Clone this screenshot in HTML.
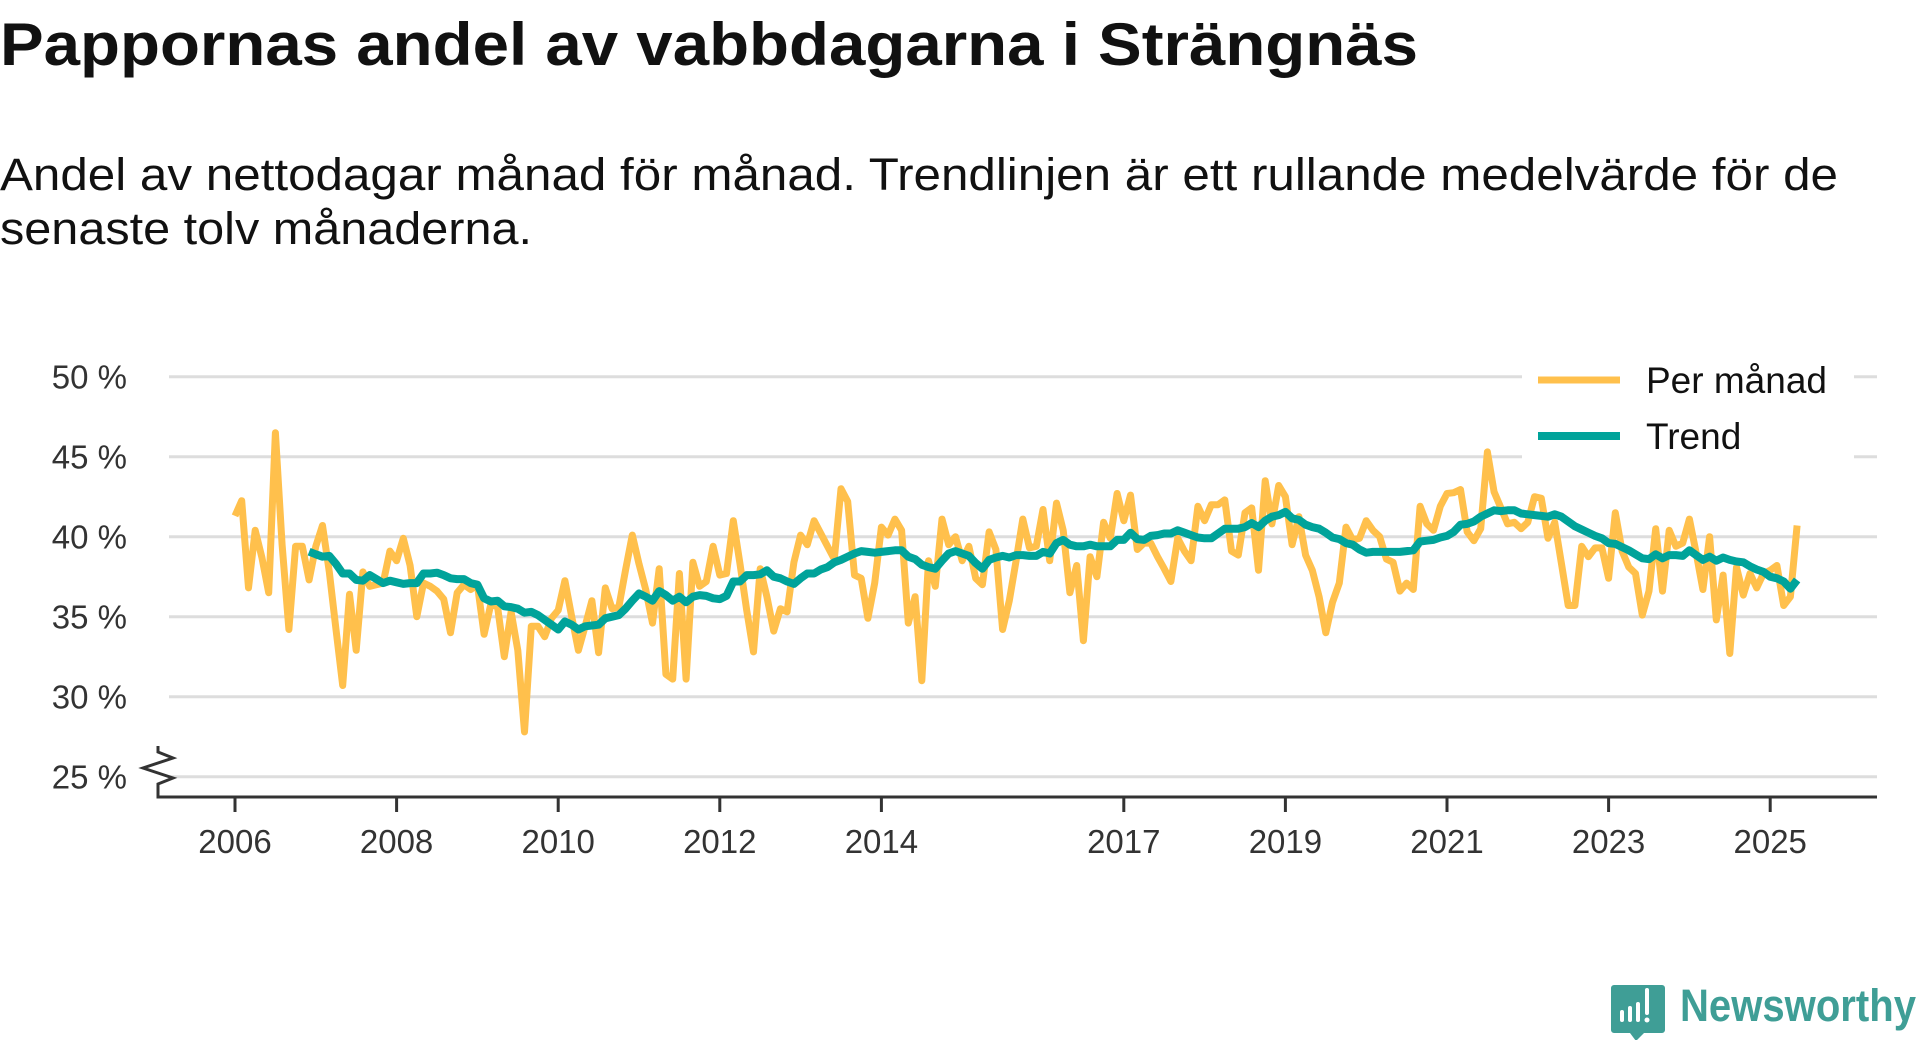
<!DOCTYPE html>
<html><head><meta charset="utf-8"><style>
html,body{margin:0;padding:0;background:#fff;}
svg{display:block;font-family:"Liberation Sans","DejaVu Sans",sans-serif;}
</style></head><body>
<svg id="chart" width="1920" height="1040" viewBox="0 0 1920 1040" xmlns="http://www.w3.org/2000/svg">
<defs><clipPath id="subclip"><rect x="0" y="120" width="1920" height="133"/></clipPath></defs>
<text x="0" y="65" font-size="60" font-weight="bold" fill="#111" textLength="1418" lengthAdjust="spacingAndGlyphs">Pappornas andel av vabbdagarna i Strängnäs</text>
<g clip-path="url(#subclip)">
<text x="0" y="190" font-size="45" fill="#111" textLength="1838" lengthAdjust="spacingAndGlyphs">Andel av nettodagar månad för månad. Trendlinjen är ett rullande medelvärde för de</text>
<text x="0" y="244" font-size="45" fill="#111" textLength="532" lengthAdjust="spacingAndGlyphs">senaste tolv månaderna.</text>
</g>
<g id="grid"></g>
<g id="yaxis"></g>
<g id="xaxis"></g>
<g id="series"></g>
<g>
<rect x="1522" y="356" width="332" height="104" fill="#fff"/>
<line x1="1538" y1="380" x2="1620" y2="380" stroke="#FFC04C" stroke-width="7"/>
<text x="1646" y="393" font-size="37" fill="#111">Per månad</text>
<line x1="1538" y1="436" x2="1620" y2="436" stroke="#00A39A" stroke-width="8"/>
<text x="1646" y="449" font-size="37" fill="#111">Trend</text>
</g>
<g>
<path d="M1614 985 h48 a3 3 0 0 1 3 3 v42 a3 3 0 0 1 -3 3 h-18 l-8 8 l-6 -8 h-16 a3 3 0 0 1 -3 -3 v-42 a3 3 0 0 1 3 -3z" fill="#3F9E96"/>
<rect x="1620" y="1010" width="4" height="12" fill="#fff" rx="2"/>
<rect x="1628" y="1006" width="4" height="16" fill="#fff" rx="2"/>
<rect x="1636" y="1002" width="4" height="20" fill="#fff" rx="2"/>
<rect x="1645" y="988" width="4" height="27" fill="#fff" rx="2"/>
<circle cx="1647" cy="1020" r="2.5" fill="#fff"/>
<text x="1680" y="1021" font-size="45" font-weight="bold" fill="#3F9E96" textLength="236" lengthAdjust="spacingAndGlyphs">Newsworthy</text>
</g>
</svg>
<script>
const yTicks = [25, 30, 35, 40, 45, 50];
const yTickLabels = ["25 %", "30 %", "35 %", "40 %", "45 %", "50 %"];
const xTickYears = [2006, 2008, 2010, 2012, 2014, 2017, 2019, 2021, 2023, 2025];
const monthly = [41.3,42.25,36.8,40.4,38.7,36.5,46.5,39.5,34.2,39.4,39.4,37.3,39.4,40.7,37.8,34.2,30.7,36.4,32.9,37.8,36.9,37.0,37.1,39.1,38.5,39.9,38.2,35.0,37.1,36.9,36.6,36.1,34.0,36.5,37.0,36.7,37.0,33.9,35.8,35.6,32.5,35.3,32.9,27.8,34.4,34.4,33.75,34.9,35.4,37.25,35.0,32.9,34.4,36.0,32.75,36.8,35.5,35.6,37.9,40.1,38.3,36.7,34.6,38.0,31.4,31.1,37.7,31.1,38.4,36.9,37.2,39.4,37.6,37.7,41.0,38.3,35.4,32.8,38.0,36.25,34.1,35.5,35.3,38.4,40.1,39.5,41.0,40.2,39.4,38.6,43.0,42.2,37.6,37.4,34.9,37.1,40.6,40.1,41.1,40.4,34.6,36.25,31.0,38.5,36.9,41.1,39.5,40.0,38.5,39.4,37.4,37.0,40.3,39.2,34.2,36.0,38.5,41.1,39.3,39.4,41.7,38.5,42.1,40.4,36.5,38.2,33.5,38.75,37.5,40.9,39.9,42.7,41.0,42.6,39.2,39.6,39.6,38.75,38.0,37.2,39.9,39.1,38.5,41.9,41.0,42.0,42.0,42.3,39.1,38.85,41.5,41.8,37.9,43.5,40.8,43.2,42.5,39.5,41.25,38.85,37.9,36.25,34.0,35.9,37.1,40.6,39.8,39.9,41.0,40.4,40.0,38.6,38.4,36.6,37.1,36.7,41.9,40.8,40.4,41.9,42.7,42.75,42.95,40.3,39.75,40.5,45.3,42.8,41.8,40.8,40.9,40.5,40.9,42.5,42.4,39.9,40.9,38.3,35.7,35.7,39.4,38.75,39.3,39.3,37.4,41.5,39.1,38.1,37.7,35.1,36.6,40.5,36.6,40.4,39.4,39.6,41.1,39.0,36.7,40.0,34.8,37.6,32.7,38.1,36.35,37.7,36.8,37.7,37.9,38.2,35.7,36.25,40.7];
const trendStart = 11;
const trend = [39.06,38.9,38.75,38.8,38.3,37.7,37.7,37.3,37.25,37.6,37.35,37.1,37.25,37.15,37.05,37.1,37.1,37.7,37.7,37.75,37.6,37.4,37.35,37.35,37.1,37.0,36.15,35.95,36.0,35.65,35.6,35.5,35.25,35.3,35.1,34.8,34.5,34.2,34.7,34.5,34.2,34.4,34.45,34.5,34.9,35.0,35.1,35.5,36.0,36.45,36.25,36.0,36.6,36.35,36.0,36.25,35.9,36.25,36.35,36.3,36.15,36.1,36.3,37.2,37.2,37.6,37.6,37.65,37.9,37.5,37.4,37.2,37.05,37.4,37.7,37.7,37.95,38.1,38.4,38.55,38.75,38.95,39.1,39.05,39.0,39.05,39.1,39.15,39.15,38.75,38.6,38.25,38.1,38.0,38.5,38.95,39.1,38.95,38.8,38.35,38.0,38.55,38.7,38.8,38.7,38.85,38.85,38.8,38.8,39.05,38.95,39.6,39.8,39.5,39.4,39.4,39.5,39.4,39.4,39.4,39.8,39.8,40.25,39.85,39.8,40.05,40.1,40.2,40.2,40.4,40.25,40.1,39.95,39.9,39.9,40.2,40.5,40.5,40.5,40.6,40.85,40.6,41.0,41.25,41.35,41.55,41.15,41.05,40.75,40.6,40.5,40.25,39.95,39.85,39.6,39.5,39.2,39.0,39.05,39.05,39.05,39.05,39.05,39.1,39.15,39.7,39.75,39.8,39.95,40.05,40.3,40.75,40.8,40.95,41.25,41.45,41.65,41.6,41.65,41.65,41.45,41.4,41.35,41.3,41.25,41.4,41.25,40.95,40.65,40.45,40.25,40.05,39.9,39.6,39.55,39.35,39.15,38.9,38.65,38.6,38.9,38.65,38.85,38.85,38.8,39.15,38.85,38.55,38.75,38.5,38.7,38.55,38.45,38.4,38.15,37.95,37.8,37.5,37.4,37.2,36.75,37.3];

const NS = "http://www.w3.org/2000/svg";
const X0 = 235, PER_YEAR = 80.8, GX1 = 157, GX2 = 1877;
function xScale(yearFrac){ return X0 + (yearFrac - 2006) * PER_YEAR; }
function xMonth(i){ return xScale(2006 + i / 12); }
function yScale(v){ return 536.7 - (v - 40) * 16; }
function mk(tag, attrs, parent){ const e = document.createElementNS(NS, tag); for (const k in attrs) e.setAttribute(k, attrs[k]); parent.appendChild(e); return e; }

const grid = document.getElementById('grid');
const yaxis = document.getElementById('yaxis');
yTicks.forEach((t, i) => {
  const l = mk('line', {x1: GX1 + 12, x2: GX2, y1: yScale(t), y2: yScale(t), stroke: '#dddddd', 'stroke-width': 3}, grid);
  
  
  const tx = mk('text', {x: 127, y: yScale(t) + 12, 'text-anchor': 'end', 'font-size': 33, fill: '#333'}, yaxis);
  tx.textContent = yTickLabels[i];
  
  
});

const xaxis = document.getElementById('xaxis');
const axl = mk('path', {d: 'M158 746 v6 l15 6 l-30 10 l30 10 l-15 6 v13 H' + GX2, fill: 'none', stroke: '#333', 'stroke-width': 3}, xaxis);


xTickYears.forEach(yr => {
  const x = xScale(yr);
  const tk = mk('line', {x1: x, x2: x, y1: 797, y2: 812, stroke: '#333', 'stroke-width': 3}, xaxis);
  
  
  const tx = mk('text', {x: x, y: 853, 'text-anchor': 'middle', 'font-size': 33, fill: '#333'}, xaxis);
  tx.textContent = String(yr);
  
  
});

const series = document.getElementById('series');
const mPts = monthly.map((v, i) => xMonth(i).toFixed(1) + ',' + yScale(v).toFixed(1)).join(' ');
const ml = mk('polyline', {points: mPts, fill: 'none', stroke: '#FFC04C', 'stroke-width': 7, 'stroke-linejoin': 'round'}, series);


const tPts = trend.map((v, i) => xMonth(i + trendStart).toFixed(1) + ',' + yScale(v).toFixed(1)).join(' ');
const tl = mk('polyline', {points: tPts, fill: 'none', stroke: '#00A39A', 'stroke-width': 8, 'stroke-linejoin': 'round'}, series);


</script>
</body></html>
